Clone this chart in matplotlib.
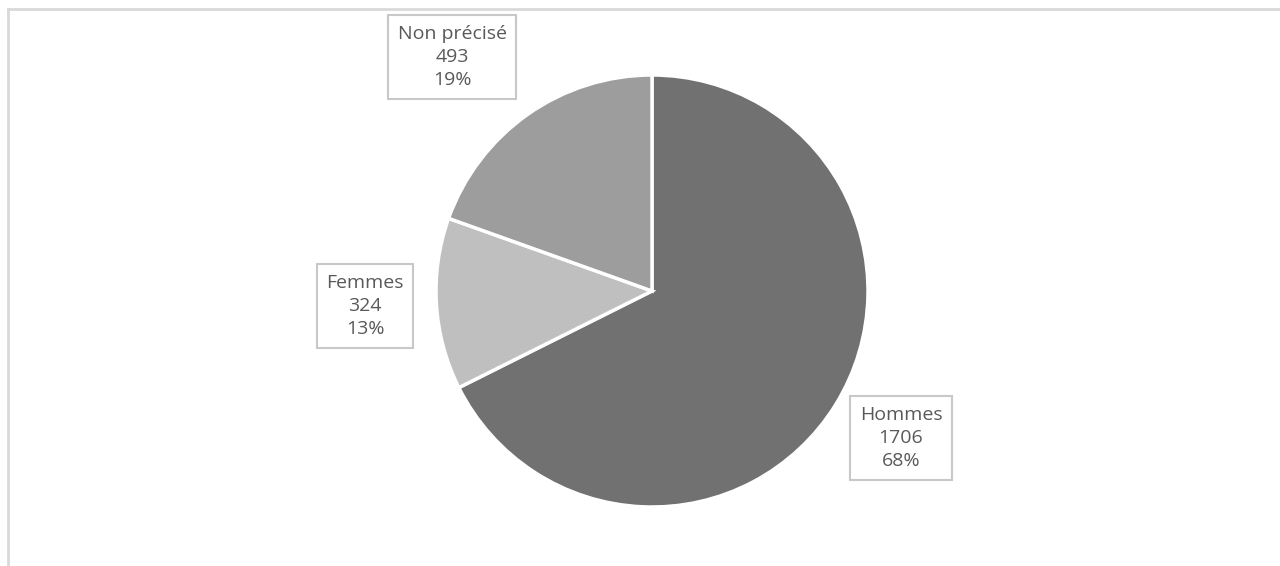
import matplotlib

matplotlib.use("Agg")
import matplotlib.pyplot as plt
from matplotlib.lines import Line2D

labels = ["Hommes", "Femmes", "Non précisé"]
counts = [1706, 324, 493]
pct_labels = ["68%", "13%", "19%"]
colors = ["#717171", "#bfbfbf", "#9d9d9d"]

W, H = 1280, 566
fig = plt.figure(figsize=(W / 100, H / 100), dpi=100)
ax = fig.add_axes([0, 0, 1, 1])

# cadre gris clair du graphique (haut et gauche)
frame = "#d9d9d9"
fig.add_artist(Line2D([8 / W, 1], [1 - 8.5 / H, 1 - 8.5 / H], color=frame, lw=2))
fig.add_artist(Line2D([7.5 / W, 7.5 / W], [0, 1 - 8.5 / H], color=frame, lw=2))

cx, cy, r = 652, H - 291, 216
ax.pie(
    counts,
    colors=colors,
    startangle=90,
    counterclock=False,
    center=(cx, cy),
    radius=r,
    wedgeprops=dict(edgecolor="white", linewidth=2.5),
    frame=True,
)
ax.set_xlim(0, W)
ax.set_ylim(0, H)
ax.set_aspect("equal")
ax.axis("off")

label_pos = {"Hommes": (901, H - 438), "Femmes": (365, H - 306), "Non précisé": (452, H - 57)}
for name, n, pct in zip(labels, counts, pct_labels):
    x, y = label_pos[name]
    ax.text(
        x, y, f"{name}\n{n}\n{pct}",
        ha="center", va="center", ma="center",
        fontsize=14, family="Open Sans", color="#595959",
        linespacing=1.36,
        bbox=dict(boxstyle="square,pad=0.5", facecolor="white", edgecolor="#c8c8c8", linewidth=1.5),
    )

fig.savefig("out.png", dpi=100)
